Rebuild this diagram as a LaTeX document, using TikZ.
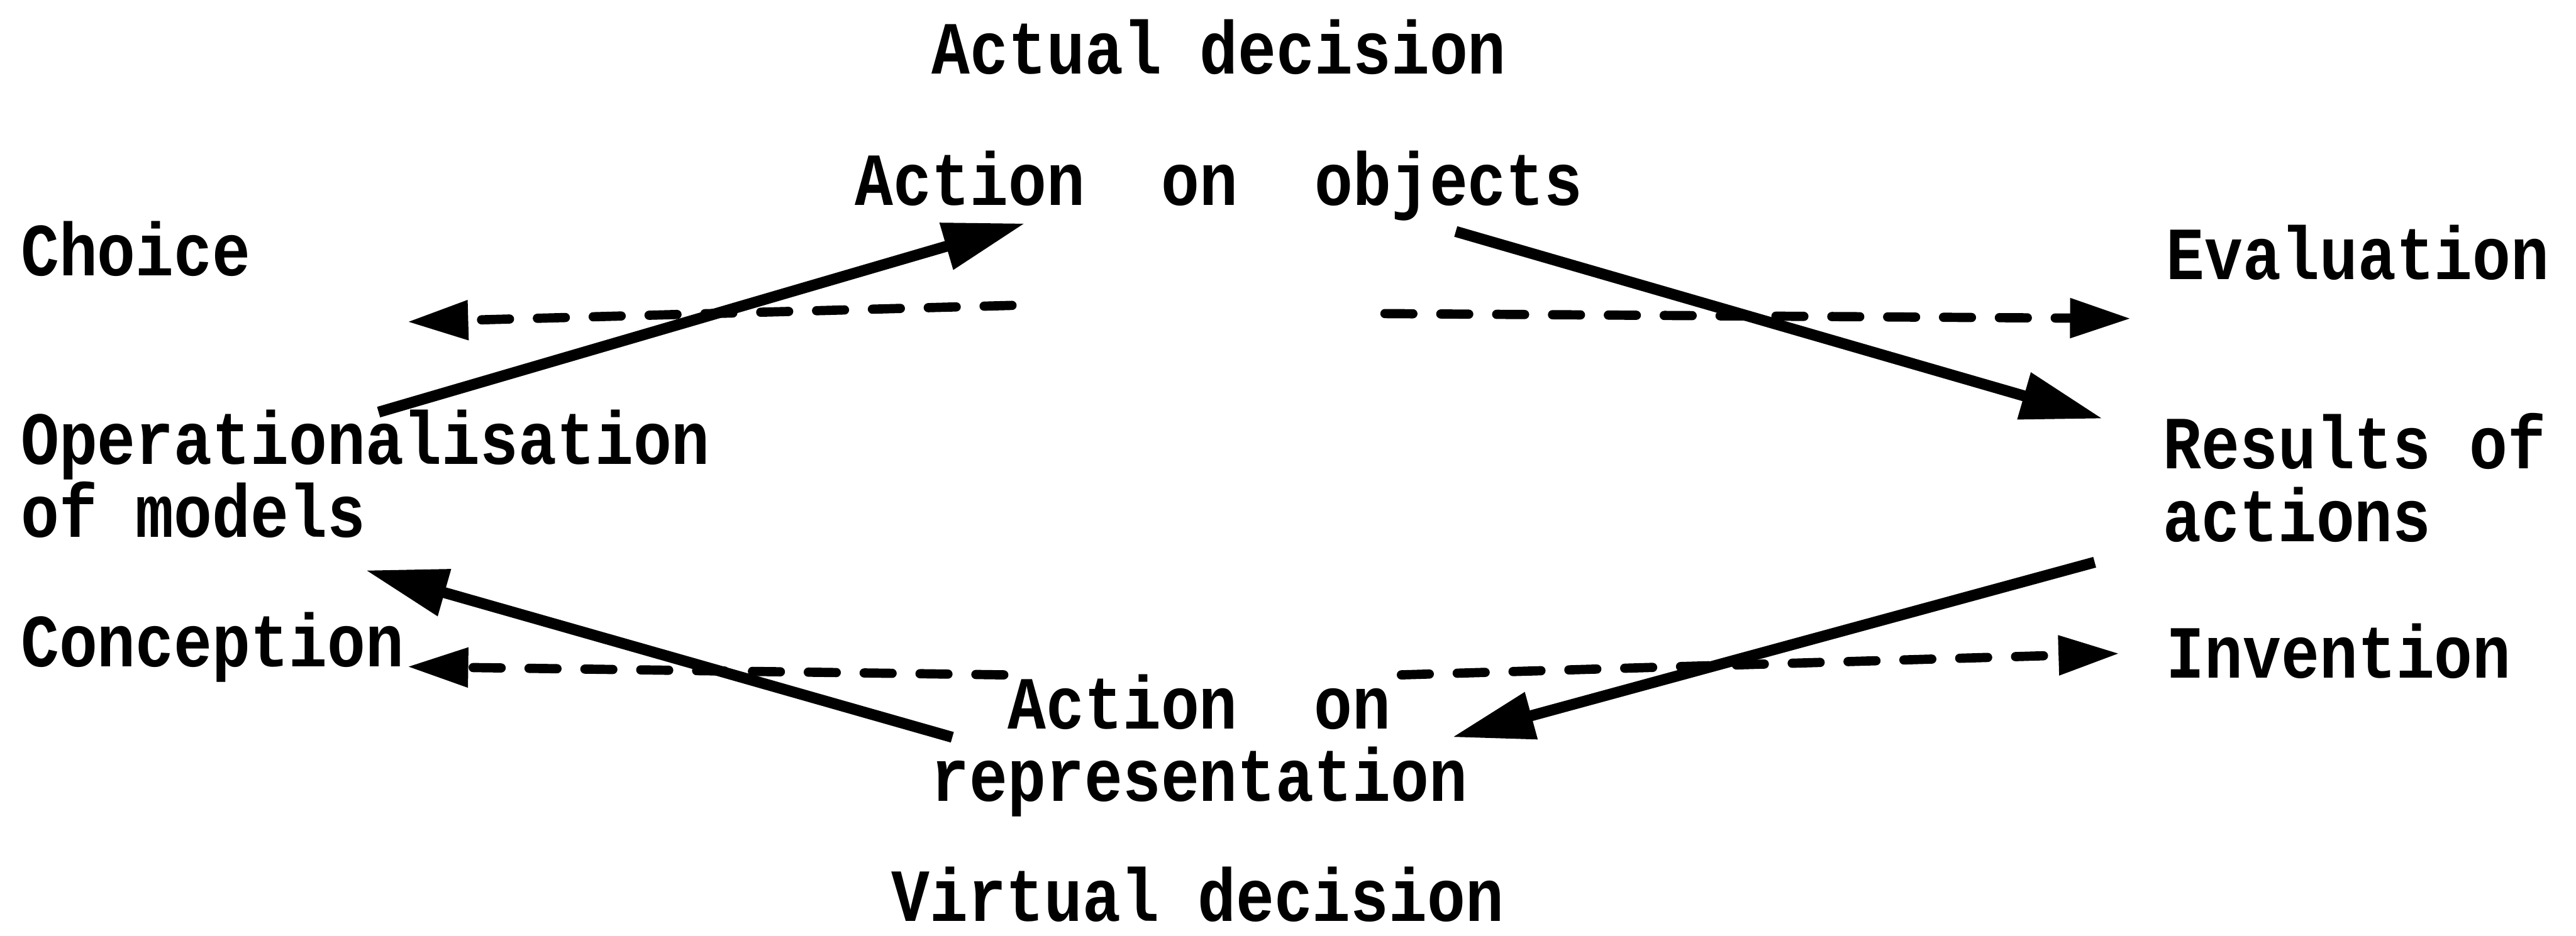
\documentclass[tikz,border=0pt]{standalone}
\usepackage{fontspec}
\setmainfont{Liberation Mono}[FakeStretch=0.85]
\usepackage{tikz}
\usetikzlibrary{arrows.meta}
\setlength{\lineskiplimit}{-20pt}

\begin{document}
\begin{tikzpicture}[font=\fontsize{13}{12.6}\selectfont\bfseries,
  lbl/.style={inner sep=0pt},
  act/.style={line width=1.9pt,-{Triangle[length=5mm,width=2.8mm]}},
  hint/.style={line width=1.6pt,line cap=round,dash pattern=on 1.7mm off 1.7mm,-{Triangle[length=3.7mm,width=2.3mm]}}]
  \useasboundingbox (0,0) rectangle (15.68,5.70);
  % labels
  \node[lbl,anchor=base] (actual) at (7.42,5.25) {Actual decision};
  \node[lbl,anchor=base] (objects) at (7.42,4.45) {Action~~on~~objects};
  \node[lbl,anchor=base west] (choice) at (0.12,4.02) {Choice};
  \node[lbl,anchor=base west] (evaluation) at (13.18,4.00) {Evaluation};
  \node[lbl,anchor=north west,align=left] (opmod) at (0.12,3.21) {Operationalisation\\of models};
  \node[lbl,anchor=north west,align=left] (results) at (13.16,3.19) {Results of\\actions};
  \node[lbl,anchor=base west] (conception) at (0.12,1.64) {Conception};
  \node[lbl,anchor=base west] (invention) at (13.18,1.57) {Invention};
  \node[lbl,anchor=north,align=center] (repr) at (7.30,1.60) {Action~~on\\representation};
  \node[lbl,anchor=base] (virtual) at (7.29,0.09) {Virtual decision};
  % ends of the dashed arrows
  \coordinate (choiceA) at (6.16,3.84);
  \coordinate (choiceB) at (2.48,3.74);
  \coordinate (evalA) at (8.43,3.79);
  \coordinate (evalB) at (12.97,3.76);
  \coordinate (concA) at (6.11,1.59);
  \coordinate (concB) at (2.48,1.64);
  \coordinate (invA) at (8.53,1.59);
  \coordinate (invB) at (12.90,1.72);
  % the cycle
  \draw[act] ([shift={(0.08,-0.02)}]opmod.north) -- ([shift={(-1.18,-0.11)}]objects.base);
  \draw[act] ([shift={(-0.78,-0.16)}]objects.base east) -- ([shift={(-0.36,-0.04)}]results.north west);
  \draw[act] ([shift={(-0.41,-0.115)}]results.south west) -- ([shift={(-0.10,-0.39)}]repr.north east);
  \draw[act] ([shift={(0.135,-0.39)}]repr.north west) -- ([yshift=-1.9mm]opmod.south);
  % dashed
  \draw[hint] (choiceA) -- (choiceB);
  \draw[hint] (evalA) -- (evalB);
  \draw[hint] (concA) -- (concB);
  \draw[hint] (invA) -- (invB);
\end{tikzpicture}
\end{document}
